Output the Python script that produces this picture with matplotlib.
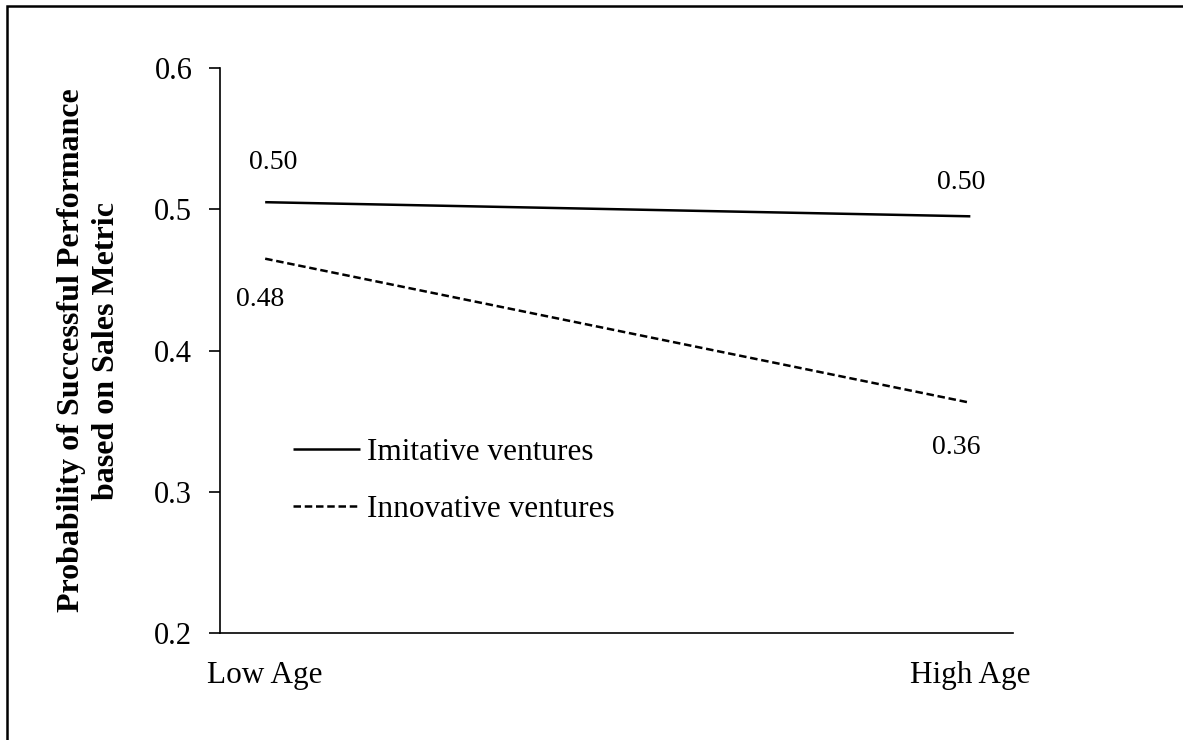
import matplotlib
matplotlib.use('Agg')
import matplotlib.pyplot as plt
from matplotlib.patches import Rectangle

plt.rcParams['font.family'] = ['Liberation Serif', 'DejaVu Serif']

# data
categories = ['Low Age', 'High Age']
imitative = [0.505, 0.495]
innovative = [0.465, 0.363]
imitative_labels = ['0.50', '0.50']
innovative_labels = ['0.48', '0.36']
y_ticks = [0.2, 0.3, 0.4, 0.5, 0.6]

fig = plt.figure(figsize=(11.83, 7.40), dpi=100)
ax = fig.add_axes([0.186, 0.1446, 0.670, 0.7635])

x = list(range(len(categories)))
ax.plot(x, imitative, color='black', lw=1.8, solid_capstyle='butt')
ax.plot(x, innovative, color='black', lw=1.8, linestyle=(0, (3, 1.5)))

# value labels
ax.text(x[0] + 0.011, imitative[0] + 0.028, imitative_labels[0], ha='center', va='center', fontsize=20)
ax.text(x[1] - 0.013, imitative[1] + 0.024, imitative_labels[1], ha='center', va='center', fontsize=20)
ax.text(x[0] - 0.007, innovative[0] - 0.029, innovative_labels[0], ha='center', va='center', fontsize=20)
ax.text(x[1] - 0.02, innovative[1] - 0.032, innovative_labels[1], ha='center', va='center', fontsize=20)

ax.set_xlim(-0.064, 1.06)
ax.set_ylim(0.2, 0.6)
ax.set_yticks(y_ticks)
ax.set_yticklabels([f'{t:.1f}' for t in y_ticks])
ax.set_xticks(x)
ax.set_xticklabels(categories)
ax.tick_params(axis='y', length=8, width=1.2, direction='out', pad=12, labelsize=22)
ax.tick_params(axis='x', length=0, pad=20, labelsize=22.5)
for side in ['top', 'right']:
    ax.spines[side].set_visible(False)
for side in ['left', 'bottom']:
    ax.spines[side].set_linewidth(1.2)

ax.set_ylabel('Probability of Successful Performance\nbased on Sales Metric',
              fontsize=23, fontweight='bold', labelpad=24, linespacing=1.25)

leg = ax.legend(['Imitative ventures', 'Innovative ventures'], loc='upper left',
                bbox_to_anchor=(0.057, 0.395), frameon=False, fontsize=22.5,
                handlelength=2.13, handletextpad=0.22, labelspacing=0.9)

# outer frame (extends past right and bottom edges)
fig.patches.append(Rectangle((7 / 1183, -0.05), 1.1, (740 - 6) / 740 + 0.05,
                             transform=fig.transFigure, fill=False,
                             edgecolor='black', lw=1.8))

fig.savefig('out.png', dpi=100)
